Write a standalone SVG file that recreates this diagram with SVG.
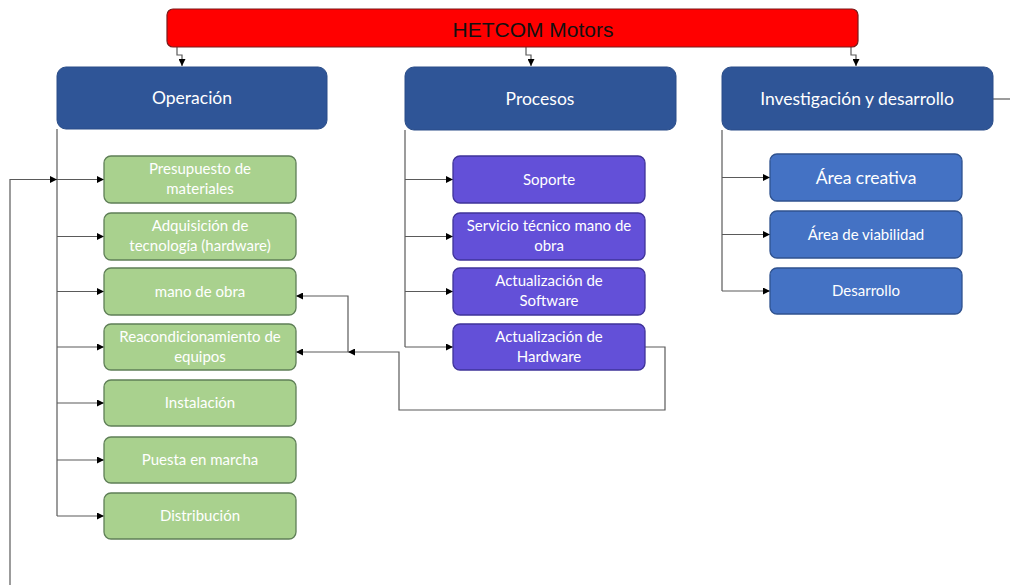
<svg xmlns="http://www.w3.org/2000/svg" width="1010" height="585" viewBox="0 0 1010 585">
  <style>
    .root { fill: #ff0000; stroke: #7a1a1a; stroke-width: 1.2; }
    .head { fill: #2f5597; stroke: #2a4d88; stroke-width: 1; }
    .op { fill: #a9d18e; stroke: #5f7f57; stroke-width: 1.3; }
    .pr { fill: #6350d8; stroke: #3f3399; stroke-width: 1.3; }
    .rd { fill: #4472c4; stroke: #2f528f; stroke-width: 1.3; }
    .t-root { font-family: "Liberation Sans", Arial, sans-serif; font-size: 21px; fill: #111; text-anchor: middle; }
    .t { font-family: Lato, "Open Sans", sans-serif; fill: #ffffff; text-anchor: middle; }
    .t-head { font-size: 17.5px; }
    .t-box { font-size: 15px; }
    .t-big { font-size: 17.5px; }
    .conn path { fill: none; stroke: #5a5a5a; stroke-width: 1.2; }
  </style>
  <defs>
    <marker id="arr" viewBox="0 0 8 8" refX="8" refY="4" markerWidth="7" markerHeight="7" markerUnits="userSpaceOnUse" orient="auto">
      <path d="M0,0 L8,4 L0,8 z" fill="#000"/>
    </marker>
  </defs>

  <rect width="1010" height="585" fill="#ffffff"/>

  <!-- connectors -->
  <g id="connectors" class="conn">
    <path d="M177,47 V55 H182 V66" marker-end="url(#arr)"/>
    <path d="M526,47 V55 H531 V66" marker-end="url(#arr)"/>
    <path d="M851,47 V55 H856 V66" marker-end="url(#arr)"/>

    <!-- Operación branch -->
    <path d="M57,129 V516"/>
    <path d="M57,179.5 H104" marker-end="url(#arr)"/>
    <path d="M57,236.5 H104" marker-end="url(#arr)"/>
    <path d="M57,291.5 H104" marker-end="url(#arr)"/>
    <path d="M57,347 H104" marker-end="url(#arr)"/>
    <path d="M57,403 H104" marker-end="url(#arr)"/>
    <path d="M57,460 H104" marker-end="url(#arr)"/>
    <path d="M57,516 H104" marker-end="url(#arr)"/>
    <path d="M10,585 V179.5 H57" marker-end="url(#arr)"/>

    <!-- Procesos branch -->
    <path d="M405,130 V347"/>
    <path d="M405,179.5 H453" marker-end="url(#arr)"/>
    <path d="M405,236.5 H453" marker-end="url(#arr)"/>
    <path d="M405,291.5 H453" marker-end="url(#arr)"/>
    <path d="M405,347 H453" marker-end="url(#arr)"/>

    <!-- Actualización de Hardware feedback -->
    <path d="M645,347 H665 V410 H399 V352 H348" marker-end="url(#arr)"/>
    <path d="M348,352 H296" marker-end="url(#arr)"/>
    <path d="M348,352 V296 H296" marker-end="url(#arr)"/>

    <!-- Investigación branch -->
    <path d="M722,130 V291"/>
    <path d="M722,177.5 H770" marker-end="url(#arr)"/>
    <path d="M722,234.5 H770" marker-end="url(#arr)"/>
    <path d="M722,291 H770" marker-end="url(#arr)"/>
    <path d="M993,99 H1010"/>
  </g>

  <g id="root">
    <rect class="root" x="167" y="9" width="691" height="38" rx="6"/>
    <text class="t-root" x="533" y="37">HETCOM Motors</text>
  </g>

  <g id="operacion">
    <rect class="head" x="57" y="67" width="270" height="62" rx="9"/>
    <text class="t t-head" x="192" y="104">Operación</text>
  </g>
  <g id="procesos">
    <rect class="head" x="405" y="67" width="271" height="63" rx="9"/>
    <text class="t t-head" x="540" y="105">Procesos</text>
  </g>
  <g id="investigacion">
    <rect class="head" x="722" y="67" width="271" height="63" rx="9"/>
    <text class="t t-head" x="857" y="105">Investigación y desarrollo</text>
  </g>

  <!-- Operación children -->
  <g id="presupuesto">
    <rect class="op" x="104" y="156" width="192" height="47" rx="7"/>
    <text class="t t-box" x="200" y="174">Presupuesto de</text>
    <text class="t t-box" x="200" y="194">materiales</text>
  </g>
  <g id="adquisicion">
    <rect class="op" x="104" y="213" width="192" height="47" rx="7"/>
    <text class="t t-box" x="200" y="231">Adquisición de</text>
    <text class="t t-box" x="200" y="251">tecnología (hardware)</text>
  </g>
  <g id="mano-de-obra">
    <rect class="op" x="104" y="268" width="192" height="47" rx="7"/>
    <text class="t t-box" x="200" y="297">mano de obra</text>
  </g>
  <g id="reacondicionamiento">
    <rect class="op" x="104" y="324" width="192" height="46" rx="7"/>
    <text class="t t-box" x="200" y="342">Reacondicionamiento de</text>
    <text class="t t-box" x="200" y="362">equipos</text>
  </g>
  <g id="instalacion">
    <rect class="op" x="104" y="380" width="192" height="46" rx="7"/>
    <text class="t t-box" x="200" y="408">Instalación</text>
  </g>
  <g id="puesta-en-marcha">
    <rect class="op" x="104" y="437" width="192" height="46" rx="7"/>
    <text class="t t-box" x="200" y="465">Puesta en marcha</text>
  </g>
  <g id="distribucion">
    <rect class="op" x="104" y="493" width="192" height="46" rx="7"/>
    <text class="t t-box" x="200" y="521">Distribución</text>
  </g>

  <!-- Procesos children -->
  <g id="soporte">
    <rect class="pr" x="453" y="156" width="192" height="47" rx="7"/>
    <text class="t t-box" x="549" y="185">Soporte</text>
  </g>
  <g id="servicio-tecnico">
    <rect class="pr" x="453" y="213" width="192" height="47" rx="7"/>
    <text class="t t-box" x="549" y="231">Servicio técnico mano de</text>
    <text class="t t-box" x="549" y="251">obra</text>
  </g>
  <g id="act-software">
    <rect class="pr" x="453" y="268" width="192" height="47" rx="7"/>
    <text class="t t-box" x="549" y="286">Actualización de</text>
    <text class="t t-box" x="549" y="306">Software</text>
  </g>
  <g id="act-hardware">
    <rect class="pr" x="453" y="324" width="192" height="46" rx="7"/>
    <text class="t t-box" x="549" y="342">Actualización de</text>
    <text class="t t-box" x="549" y="362">Hardware</text>
  </g>

  <!-- Investigación children -->
  <g id="area-creativa">
    <rect class="rd" x="770" y="154" width="192" height="47" rx="7"/>
    <text class="t t-big" x="866" y="184">Área creativa</text>
  </g>
  <g id="area-viabilidad">
    <rect class="rd" x="770" y="211" width="192" height="47" rx="7"/>
    <text class="t t-box" x="866" y="240">Área de viabilidad</text>
  </g>
  <g id="desarrollo">
    <rect class="rd" x="770" y="268" width="192" height="46" rx="7"/>
    <text class="t t-box" x="866" y="296">Desarrollo</text>
  </g>
</svg>
